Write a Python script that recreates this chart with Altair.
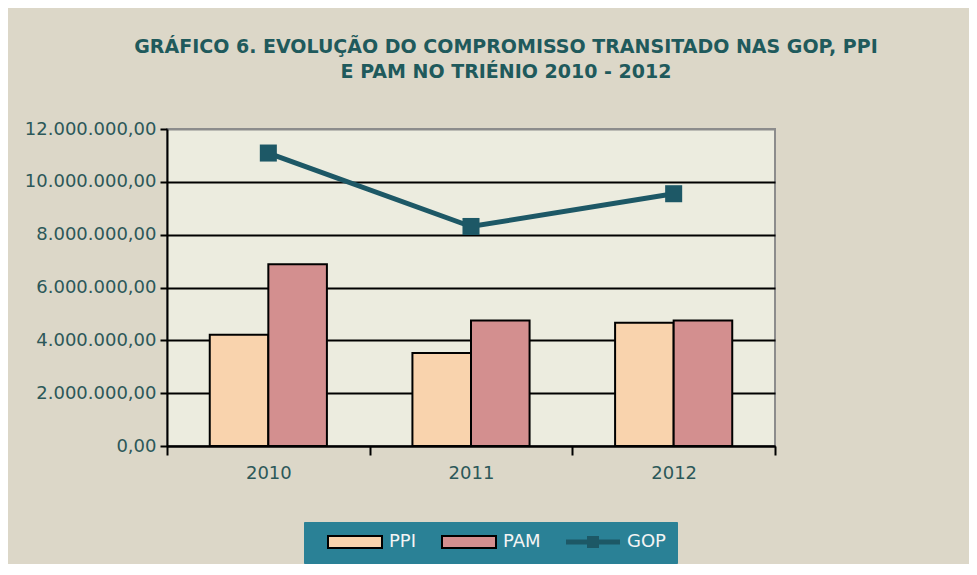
import altair as alt
import pandas as pd

# ---- data ----
years = ["2010", "2011", "2012"]
ppi_values = [4210000, 3520000, 4670000]
pam_values = [6880000, 4750000, 4750000]
gop_values = [11090000, 8310000, 9550000]
series_names = ["PPI", "PAM", "GOP"]
y_tick_values = [0, 2000000, 4000000, 6000000, 8000000, 10000000, 12000000]
title_lines = [
    "GRÁFICO 6. EVOLUÇÃO DO COMPROMISSO TRANSITADO NAS GOP, PPI",
    "E PAM NO TRIÉNIO 2010 - 2012",
]

# ---- styling ----
series_colors = ["#F9D3AD", "#D38F8F", "#1D5866"]
outer_bg = "#DCD7C8"
plot_bg = "#ECECDF"
text_teal = "#2C5859"
title_teal = "#1F5A5C"
legend_bg = "#2A8196"

bars_df = pd.DataFrame(
    {
        "year": years * 2,
        "series": ["PPI"] * len(years) + ["PAM"] * len(years),
        "value": ppi_values + pam_values,
    }
)
line_df = pd.DataFrame({"year": years, "series": ["GOP"] * len(years), "value": gop_values})

x_enc = alt.X(
    "year:N",
    sort=years,
    title=None,
    scale=alt.Scale(paddingInner=0, paddingOuter=0),
    axis=alt.Axis(
        tickBand="extent",
        tickSize=9,
        tickWidth=2,
        tickColor="black",
        domainColor="black",
        domainWidth=2,
        labelAngle=0,
        labelFont="DejaVu Sans",
        labelFontSize=18,
        labelColor=text_teal,
        labelPadding=9,
        grid=False,
    ),
)

y_enc = alt.Y(
    "value:Q",
    title=None,
    scale=alt.Scale(domain=[0, 12000000], nice=False, zero=True),
    axis=alt.Axis(
        values=y_tick_values,
        labelExpr="replace(format(datum.value, ',d'), regexp(',', 'g'), '.') + ',00'",
        tickSize=7,
        tickWidth=2,
        tickColor="black",
        domainColor="black",
        domainWidth=2,
        labelFont="DejaVu Sans",
        labelFontSize=18,
        labelColor=text_teal,
        labelPadding=4,
        grid=True,
        gridColor={"condition": {"test": "datum.value >= 12000000", "value": "#8C8C8C"}, "value": "black"},
        gridWidth=2,
    ),
)

sq = "M-1,-1H8V1H-1Z"
gop_sym = "M-1,-0.42H8V0.42H-1Z M2.5,-1H4.5V1H2.5Z"

color_scale = alt.Scale(domain=series_names, range=series_colors)
legend = alt.Legend(
    title=" ",
    titleOrient="left",
    titleFontSize=8,
    titlePadding=10,
    orient="none",
    legendX=137,
    legendY=393,
    direction="horizontal",
    columns=3,
    columnPadding=21,
    padding=11,
    fillColor=legend_bg,
    strokeColor=legend_bg,
    labelColor="#F4F4F4",
    labelFont="DejaVu Sans",
    labelFontSize=18,
    labelOffset=46,
    labelExpr="datum.label == 'GOP' ? 'GOP  ' : datum.label",
    symbolSize=144,
    symbolStrokeWidth=2,
    symbolOpacity=1,
    symbolType=alt.ExprRef(f"datum.value === 'GOP' ? '{gop_sym}' : '{sq}'"),
    symbolStrokeColor=alt.ExprRef("datum.value === 'GOP' ? 'transparent' : 'black'"),
)

bars = (
    alt.Chart(bars_df)
    .mark_bar(stroke="black", strokeWidth=2, opacity=1)
    .encode(
        x=x_enc,
        xOffset=alt.XOffset("series:N", sort=["PPI", "PAM"], scale=alt.Scale(paddingOuter=0.73, paddingInner=0)),
        y=y_enc,
        color=alt.Color("series:N", scale=color_scale, legend=legend),
    )
)

line = (
    alt.Chart(line_df)
    .mark_line(
        strokeWidth=5,
        color=series_colors[2],
        point=alt.OverlayMarkDef(shape="square", size=290, filled=True, opacity=1, color=series_colors[2]),
    )
    .encode(x=x_enc, y=y_enc)
)

chart = (
    alt.layer(bars, line)
    .properties(
        width=608,
        height=317,
        autosize=alt.AutoSizeParams(type="none"),
        padding={"left": 159, "top": 121, "right": 194, "bottom": 118},
        background=outer_bg,
        title=alt.TitleParams(
            text=title_lines,
            font="DejaVu Sans",
            fontSize=19,
            fontWeight="bold",
            color=title_teal,
            anchor="middle",
            dx=35,
            offset=38,
            lineHeight=25,
        ),
    )
    .configure_view(fill=plot_bg, stroke="#8C8C8C", strokeWidth=2)
)

chart.save("out.html", embed_options={"renderer": "svg", "actions": False})
